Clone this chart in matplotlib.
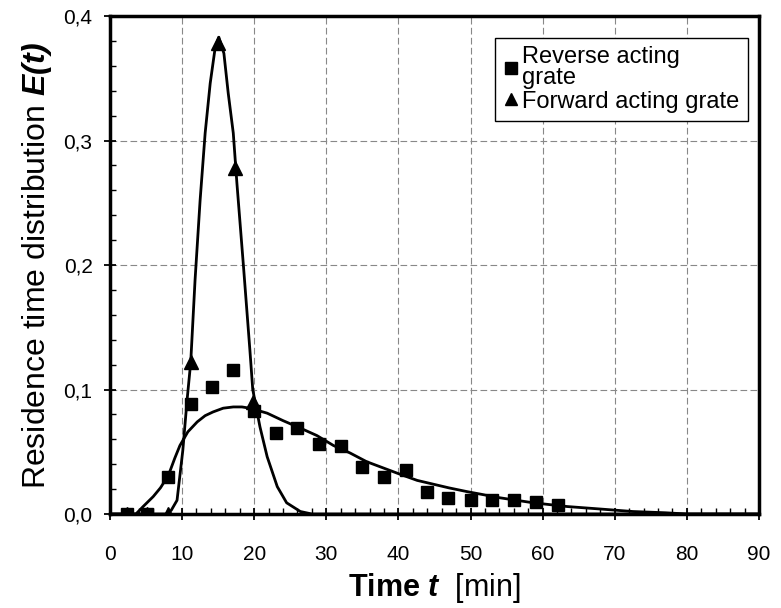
import matplotlib.pyplot as plt
from matplotlib.lines import Line2D
from matplotlib.ticker import MultipleLocator, FuncFormatter

plt.rcParams['font.family'] = ['Liberation Sans', 'DejaVu Sans']
plt.rcParams['mathtext.fontset'] = 'custom'
plt.rcParams['mathtext.rm'] = 'Liberation Sans'
plt.rcParams['mathtext.it'] = 'Liberation Sans:italic'
plt.rcParams['mathtext.bf'] = 'Liberation Sans:bold'
plt.rcParams['mathtext.bfit'] = 'Liberation Sans:italic:bold'

# measured points, reverse acting grate (squares)
rev_t = [2.3, 5.1, 8.1, 11.2, 14.1, 17.1, 20.0, 23.0, 25.9, 29.0, 32.0, 35.0,
         38.0, 41.0, 44.0, 46.9, 50.0, 53.0, 56.0, 59.1, 62.1]
rev_e = [0.0, 0.0, 0.030, 0.088, 0.102, 0.116, 0.083, 0.065, 0.069, 0.056, 0.055,
         0.038, 0.030, 0.035, 0.018, 0.013, 0.011, 0.011, 0.011, 0.010, 0.007]

# measured points, forward acting grate (triangles)
fwd_t = [2.3, 5.1, 8.1, 11.2, 15.0, 17.3, 19.8]
fwd_e = [0.0, 0.0, 0.0, 0.122, 0.378, 0.278, 0.090]

# fitted curves
rfit_t = [0.0, 3.6, 4.6, 6.0, 7.0, 8.1, 9.0, 9.7, 10.8, 12.1, 13.2, 14.3, 15.7, 17.1,
          18.3, 19.4, 21.8, 24.0, 26.4, 28.7, 31.0, 33.3, 35.6, 37.9, 40.2, 42.6,
          44.8, 47.0, 49.5, 54.1, 58.7, 63.4, 68.0, 72.5, 77.0, 80.0, 90.0]
rfit_e = [0.0, 0.0, 0.006, 0.014, 0.021, 0.031, 0.045, 0.055, 0.066, 0.074, 0.079,
          0.082, 0.085, 0.086, 0.086, 0.085, 0.081, 0.075, 0.069, 0.063, 0.055,
          0.049, 0.042, 0.037, 0.032, 0.027, 0.024, 0.021, 0.018, 0.013, 0.009,
          0.006, 0.004, 0.002, 0.001, 0.0, 0.0]

ffit_t = [0.0, 7.8, 8.5, 9.3, 10.1, 10.7, 11.2, 11.8, 12.5, 13.2, 13.9, 14.6, 15.1,
          15.8, 16.4, 17.1, 17.6, 18.5, 19.4, 19.8, 20.8, 21.8, 23.2, 24.5, 26.4,
          28.0, 90.0]
ffit_e = [0.0, 0.0, 0.003, 0.011, 0.051, 0.092, 0.122, 0.188, 0.252, 0.306, 0.346,
          0.375, 0.383, 0.370, 0.338, 0.306, 0.266, 0.200, 0.132, 0.100, 0.070,
          0.046, 0.022, 0.009, 0.002, 0.0, 0.0]

fig = plt.figure(figsize=(7.81, 6.08), dpi=100)
ax = fig.add_axes([0.1408, 0.1546, 0.831, 0.819])

ax.plot(rfit_t, rfit_e, color='black', lw=2.0, zorder=3)
ax.plot(ffit_t, ffit_e, color='black', lw=2.0, zorder=3)
ax.plot(rev_t, rev_e, ls='none', marker='s', ms=8, color='black', zorder=4)
ax.plot(fwd_t, fwd_e, ls='none', marker='^', ms=9.5, color='black', zorder=4)

ax.set_xlim(0, 90)
ax.set_ylim(0, 0.4)
ax.xaxis.set_major_locator(MultipleLocator(10))
ax.xaxis.set_minor_locator(MultipleLocator(2))
ax.yaxis.set_major_locator(MultipleLocator(0.1))
ax.yaxis.set_minor_locator(MultipleLocator(0.02))
ax.yaxis.set_major_formatter(FuncFormatter(lambda v, p: f"{v:.1f}".replace('.', ',')))

ax.tick_params(which='major', direction='inout', length=9, width=1.3, labelsize=15)
ax.tick_params(axis='x', which='major', pad=18)
ax.tick_params(axis='y', which='major', pad=8)
ax.tick_params(which='minor', direction='in', length=4, width=1.0)

for s in ax.spines.values():
    s.set_linewidth(2.5)

ax.grid(True, which='major', color='#888888', lw=0.8, ls=(0, (6, 3)))
ax.set_axisbelow(True)

ax.set_xlabel(r'$\mathbf{Time}\ \mathbfit{t}$  [min]', fontsize=22, labelpad=5)
ax.set_ylabel(r'Residence time distribution $\mathbfit{E(t)}$', fontsize=23,
              labelpad=7)

handles = [Line2D([], [], ls='none', marker='s', ms=8, color='black'),
           Line2D([], [], ls='none', marker='^', ms=9, color='black')]
leg = ax.legend(handles, ['Reverse acting\ngrate', 'Forward acting grate'],
                loc='upper right', bbox_to_anchor=(0.983, 0.956), borderaxespad=0,
                fontsize=17, handlelength=0.6, handletextpad=0.2, labelspacing=0.05,
                borderpad=0.35, fancybox=False, framealpha=1, edgecolor='black')
leg.get_frame().set_linewidth(1.0)
for t in leg.get_texts():
    t.set_linespacing(0.95)

fig.savefig('out.png', dpi=100)
